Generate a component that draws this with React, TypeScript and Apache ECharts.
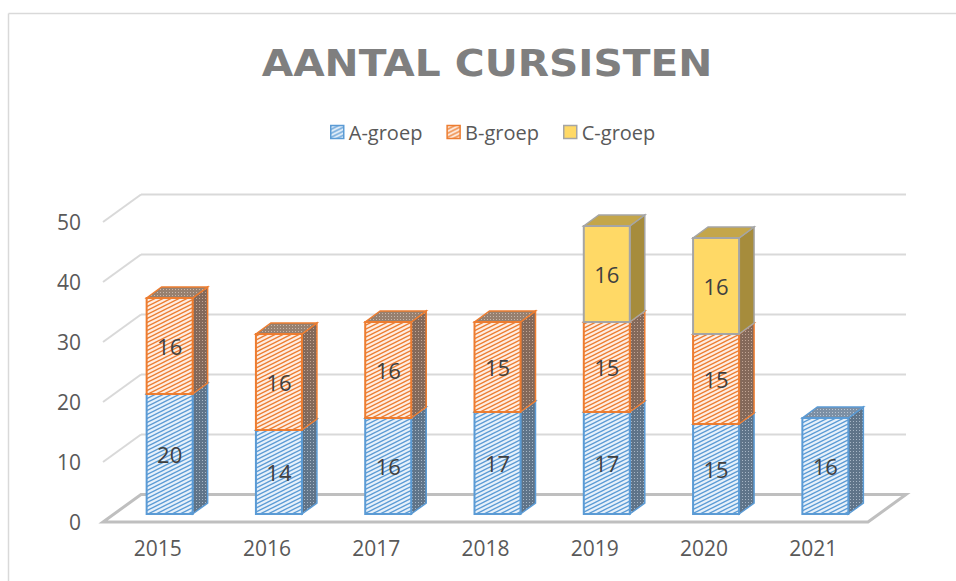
import React, { useEffect, useRef } from 'react';
import * as echarts from 'echarts';

const years = ['2015', '2016', '2017', '2018', '2019', '2020', '2021'];
const groepA: (number | null)[] = [20, 14, 16, 17, 17, 15, 16];
const groepB: (number | null)[] = [16, 16, 16, 15, 15, 15, null];
const groepC: (number | null)[] = [null, null, null, null, 16, 16, null];
const seriesNames = ['A-groep', 'B-groep', 'C-groep'];
const yTicks = [0, 10, 20, 30, 40, 50];
const titleText = 'AANTAL CURSISTEN';

// 3D geometry (pixels)
const BACK_DX = 38;
const BACK_DY = -27.5;
const FACE_DX = 12;
const FACE_DY = -8;
const BAR_W = 46;
const DEPTH_DX = 15;
const DEPTH_DY = -11;

function hatch(bg: string, line: string) {
  const c = document.createElement('canvas');
  c.width = 8;
  c.height = 4;
  const g = c.getContext('2d')!;
  g.fillStyle = bg;
  g.fillRect(0, 0, 8, 4);
  g.strokeStyle = line;
  g.lineWidth = 1.4;
  for (let k = -1; k <= 1; k++) {
    g.beginPath();
    g.moveTo(0, 4 * k + 4);
    g.lineTo(8, 4 * k);
    g.stroke();
  }
  return { image: c.toDataURL(), repeat: 'repeat', imageWidth: 8, imageHeight: 4 } as any;
}

function dots(bg: string, dot: string) {
  const c = document.createElement('canvas');
  c.width = 3;
  c.height = 3;
  const g = c.getContext('2d')!;
  g.fillStyle = bg;
  g.fillRect(0, 0, 3, 3);
  g.fillStyle = dot;
  g.fillRect(1, 1, 1, 1);
  return { image: c.toDataURL(), repeat: 'repeat', imageWidth: 3, imageHeight: 3 } as any;
}

export default function App() {
  const ref = useRef<HTMLDivElement>(null);
  useEffect(() => {
    if (!ref.current) return;
    const chart = echarts.init(ref.current, null, { renderer: 'svg' });

    const styles = [
      {
        front: hatch('#e8f1fa', '#5b9bd5'),
        side: dots('#5f7489', '#a7b6c6'),
        top: dots('#7c8fa4', '#b9c5d2'),
        border: '#5b9bd5',
      },
      {
        front: hatch('#fdeee4', '#ed7d31'),
        side: dots('#84695a', '#c2a594'),
        top: dots('#97806f', '#c9b7aa'),
        border: '#ed7d31',
      },
      {
        front: '#ffd966',
        side: '#a68c3c',
        top: '#c4a64a',
        border: '#a5a5a5',
      },
    ];

    const stacks = [groepA, groepB, groepC];
    const seriesData = stacks.map((arr, s) => {
      const out: number[][] = [];
      years.forEach((_, i) => {
        const v = arr[i];
        if (v == null) return;
        let base = 0;
        for (let k = 0; k < s; k++) base += stacks[k][i] ?? 0;
        out.push([i, base, base + v, v]);
      });
      return out;
    });

    const makeRender = (st: any) => (params: any, api: any) => {
      const i = api.value(0);
      const b = api.value(1);
      const t = api.value(2);
      const v = api.value(3);
      const pb = api.coord([i, b]);
      const pt = api.coord([i, t]);
      const x0 = pb[0] + FACE_DX - BAR_W / 2;
      const x1 = x0 + BAR_W;
      const yb = pb[1] + FACE_DY;
      const yt = pt[1] + FACE_DY;
      return {
        type: 'group',
        children: [
          {
            type: 'polygon',
            shape: {
              points: [
                [x1, yb],
                [x1 + DEPTH_DX, yb + DEPTH_DY],
                [x1 + DEPTH_DX, yt + DEPTH_DY],
                [x1, yt],
              ],
            },
            style: { fill: st.side, stroke: st.border, lineWidth: 1.5 },
          },
          {
            type: 'polygon',
            shape: {
              points: [
                [x0, yt],
                [x1, yt],
                [x1 + DEPTH_DX, yt + DEPTH_DY],
                [x0 + DEPTH_DX, yt + DEPTH_DY],
              ],
            },
            style: { fill: st.top, stroke: st.border, lineWidth: 1.5 },
          },
          {
            type: 'rect',
            shape: { x: x0, y: yt, width: BAR_W, height: yb - yt },
            style: { fill: st.front, stroke: st.border, lineWidth: 2 },
          },
          {
            type: 'text',
            x: (x0 + x1) / 2,
            y: (yb + yt) / 2,
            style: {
              text: String(v),
              fill: '#404040',
              font: '22px "Open Sans"',
              align: 'center',
              verticalAlign: 'middle',
              textAlign: 'center',
              textVerticalAlign: 'middle',
            },
          },
        ],
      };
    };

    const frameRender = (params: any, api: any) => {
      const v = api.value(1);
      const cs = params.coordSys;
      const p = api.coord([0, v]);
      const y = p[1];
      const children: any[] = [];
      if (v === 0) {
        children.push({
          type: 'polygon',
          shape: {
            points: [
              [cs.x, y],
              [cs.x + cs.width, y],
              [cs.x + cs.width + BACK_DX, y + BACK_DY],
              [cs.x + BACK_DX, y + BACK_DY],
            ],
          },
          style: { fill: 'none', stroke: '#bfbfbf', lineWidth: 3 },
        });
      } else {
        children.push({
          type: 'line',
          shape: { x1: cs.x + BACK_DX, y1: y + BACK_DY, x2: cs.x + cs.width + BACK_DX, y2: y + BACK_DY },
          style: { stroke: '#d9d9d9', lineWidth: 2 },
        });
        children.push({
          type: 'line',
          shape: { x1: cs.x, y1: y, x2: cs.x + BACK_DX, y2: y + BACK_DY },
          style: { stroke: '#d9d9d9', lineWidth: 2 },
        });
      }
      return { type: 'group', children };
    };

    const option: any = {
      animation: false,
      backgroundColor: '#ffffff',
      grid: { left: 103, right: 88, top: 222, bottom: 59, containLabel: false },
      xAxis: {
        type: 'category',
        data: years,
        axisLine: { show: false },
        axisTick: { show: false },
        axisLabel: { color: '#595959', fontSize: 21, fontFamily: 'Open Sans', margin: 15 },
        splitLine: { show: false },
      },
      yAxis: {
        type: 'value',
        min: 0,
        max: 50,
        interval: 10,
        axisLine: { show: false },
        axisTick: { show: false },
        axisLabel: { color: '#595959', fontSize: 21, fontFamily: 'Open Sans', margin: 22 },
        splitLine: { show: false },
      },
      legend: {
        top: 117,
        left: 325,
        itemWidth: 13,
        itemHeight: 13,
        itemGap: 24,
        icon: 'rect',
        textStyle: { color: '#595959', fontSize: 20, fontFamily: 'Open Sans' },
        data: seriesNames.map((n, s) => ({
          name: n,
          itemStyle: { color: styles[s].front, borderColor: styles[s].border, borderWidth: 1.5 },
        })),
      },
      graphic: [
        {
          type: 'line',
          shape: { x1: 8.5, y1: 13.5, x2: 8.5, y2: 581 },
          style: { stroke: '#d9d9d9', lineWidth: 1.5 },
        },
        {
          type: 'line',
          shape: { x1: 8.5, y1: 13.5, x2: 956, y2: 13.5 },
          style: { stroke: '#d9d9d9', lineWidth: 1.5 },
        },
        {
          type: 'text',
          x: 487,
          y: 63,
          scaleX: 1.1,
          style: {
            text: titleText,
            x: 0,
            y: 0,
            fill: '#7f7f7f',
            font: 'bold 37px "DejaVu Sans"',
            textAlign: 'center',
            textVerticalAlign: 'middle',
            align: 'center',
            verticalAlign: 'middle',
          },
        },
      ],
      series: [
        {
          type: 'custom',
          name: 'frame',
          z: 1,
          silent: true,
          clip: false,
          renderItem: frameRender,
          data: yTicks.map((t) => [0, t]),
          encode: { x: 0, y: 1 },
        },
        ...seriesNames.map((n, s) => ({
          type: 'custom',
          name: n,
          z: 2 + s,
          clip: false,
          itemStyle: { color: styles[s].front, borderColor: styles[s].border },
          renderItem: makeRender(styles[s]),
          data: seriesData[s],
          encode: { x: 0, y: [1, 2] },
        })),
      ],
    };
    chart.setOption(option);
    return () => chart.dispose();
  }, []);
  return (
    <div
      ref={ref}
      style={{ position: 'absolute', left: 0, top: 0, width: 956, height: 581, background: '#fff' }}
    />
  );
}
